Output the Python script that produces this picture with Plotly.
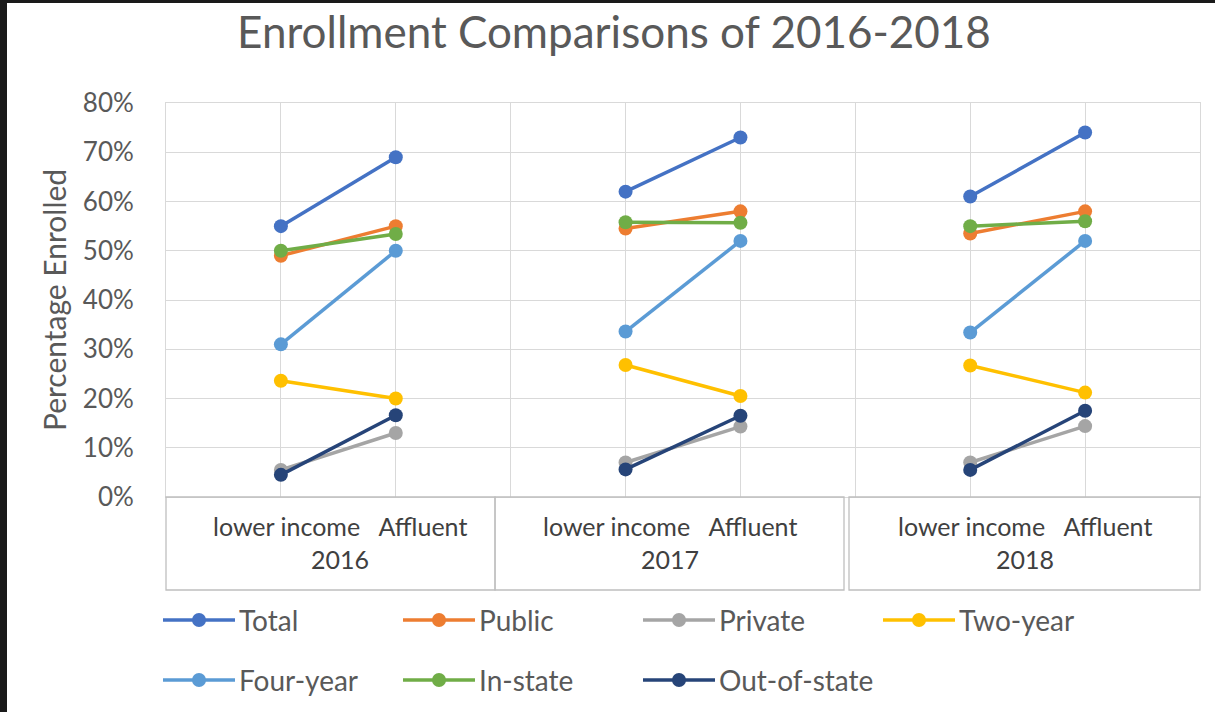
import plotly.graph_objects as go

# ---------------- data ----------------
years = ["2016", "2017", "2018"]
groups = ["lower income", "Affluent"]
series_names = ["Total", "Public", "Private", "Two-year", "Four-year", "In-state", "Out-of-state"]
colors = ["#4472C4", "#ED7D31", "#A5A5A5", "#FFC000", "#5B9BD5", "#70AD47", "#264478"]

total = [0.55, 0.69, 0.62, 0.73, 0.61, 0.74]
public = [0.49, 0.55, 0.545, 0.58, 0.535, 0.58]
private = [0.055, 0.13, 0.07, 0.143, 0.07, 0.144]
two_year = [0.236, 0.20, 0.268, 0.205, 0.267, 0.212]
four_year = [0.31, 0.50, 0.336, 0.52, 0.334, 0.52]
in_state = [0.50, 0.534, 0.558, 0.557, 0.55, 0.56]
out_state = [0.045, 0.166, 0.056, 0.165, 0.055, 0.175]
values = [total, public, private, two_year, four_year, in_state, out_state]

y_ticks = [0, 0.1, 0.2, 0.3, 0.4, 0.5, 0.6, 0.7, 0.8]

# ---------------- layout geometry (pixels) ----------------
W, H = 1215, 712
L, R, T, B = 166, 1200, 103, 497


def px(x):
    return (x - L) / (R - L)


def py(y):
    return (B - y) / (B - T)


FONT = "Lato, 'Open Sans', sans-serif"
GRAY = "#595959"

# x positions: each year occupies 3 slots, the two groups on slots 1 and 2
xs, keys = [], []
for yi, yr in enumerate(years):
    for gi, g in enumerate(groups):
        xs.append(3 * yi + 1 + gi)
        keys.append((yi, gi))

fig = go.Figure()
for name, col, vals in zip(series_names, colors, values):
    x_plot, y_plot = [], []
    for i, (yi, gi) in enumerate(keys):
        x_plot.append(xs[i])
        y_plot.append(vals[i])
        if gi == len(groups) - 1:
            x_plot.append(None)
            y_plot.append(None)
    fig.add_trace(go.Scatter(
        x=x_plot, y=y_plot, name=name, mode="lines+markers",
        line=dict(color=col, width=3.5),
        marker=dict(color=col, size=14),
        connectgaps=False, showlegend=False,
    ))

shapes = []
annotations = []

# black screenshot border strips
shapes.append(dict(type="rect", xref="paper", yref="paper", x0=px(0), x1=px(7), y0=py(H), y1=py(0),
                   fillcolor="#1a1a1a", line=dict(width=0), layer="above"))
shapes.append(dict(type="rect", xref="paper", yref="paper", x0=px(0), x1=px(W), y0=py(3), y1=py(0),
                   fillcolor="#1a1a1a", line=dict(width=0), layer="above"))

# category label boxes (multi-level axis)
box_edges = [(166, 495), (495, 844), (849, 1200)]
for (x0, x1), yr in zip(box_edges, years):
    shapes.append(dict(type="rect", xref="paper", yref="paper", x0=px(x0), x1=px(x1),
                       y0=py(590), y1=py(497), line=dict(color="#bfbfbf", width=1.3),
                       fillcolor="rgba(0,0,0,0)"))
    cx = (x0 + x1) / 2 + (9 if yr == years[0] else 0)
    annotations.append(dict(xref="paper", yref="paper", x=px(cx), y=py(526),
                            text="\u00a0\u00a0\u00a0".join(groups), showarrow=False,
                            xanchor="center", yanchor="middle",
                            font=dict(family=FONT, size=25, color="#404040")))
    annotations.append(dict(xref="paper", yref="paper", x=px(cx), y=py(559),
                            text=yr, showarrow=False, xanchor="center", yanchor="middle",
                            font=dict(family=FONT, size=25, color="#404040")))

# y-axis title
annotations.append(dict(xref="paper", yref="paper", x=px(54), y=py(300), text="Percentage Enrolled",
                        textangle=-90, showarrow=False, xanchor="center", yanchor="middle",
                        font=dict(family=FONT, size=30, color=GRAY)))

# custom legend (two rows of four)
for i, (name, col) in enumerate(zip(series_names, colors)):
    row, c = divmod(i, 4)
    x0 = 163 + 240 * c
    yc = 620 + 60 * row
    shapes.append(dict(type="line", xref="paper", yref="paper", x0=px(x0), x1=px(x0 + 72),
                       y0=py(yc), y1=py(yc), line=dict(color=col, width=3.5)))
    shapes.append(dict(type="circle", xref="paper", yref="paper", x0=px(x0 + 29), x1=px(x0 + 43),
                       y0=py(yc + 7), y1=py(yc - 7), fillcolor=col, line=dict(color=col, width=0)))
    annotations.append(dict(xref="paper", yref="paper", x=px(x0 + 74), y=py(yc), text=name,
                            showarrow=False, xanchor="left", yanchor="middle",
                            font=dict(family=FONT, size=28, color=GRAY)))

fig.update_layout(
    width=W, height=H, autosize=False,
    margin=dict(l=L, r=W - R, t=T, b=H - B),
    paper_bgcolor="white", plot_bgcolor="white",
    title=dict(text="Enrollment Comparisons of 2016-2018", xref="container", yref="container",
               x=614 / W, y=1 - 33 / H, xanchor="center", yanchor="middle",
               font=dict(family=FONT, size=44, color=GRAY)),
    xaxis=dict(range=[0, 9], tickmode="linear", tick0=0, dtick=1, showticklabels=False,
               showgrid=True, gridcolor="#d9d9d9", gridwidth=1, zeroline=False,
               showline=True, linecolor="#d9d9d9", mirror=True, fixedrange=True),
    yaxis=dict(range=[0, 0.8], tickvals=y_ticks, tickformat=".0%",
               showgrid=True, gridcolor="#d9d9d9", gridwidth=1, zeroline=False,
               showline=True, linecolor="#d9d9d9", mirror=True,
               ticks="outside", ticklen=26, tickcolor="rgba(0,0,0,0)",
               tickfont=dict(family=FONT, size=26, color=GRAY), fixedrange=True),
    shapes=shapes, annotations=annotations, showlegend=False,
)

fig.write_html("out.html")
